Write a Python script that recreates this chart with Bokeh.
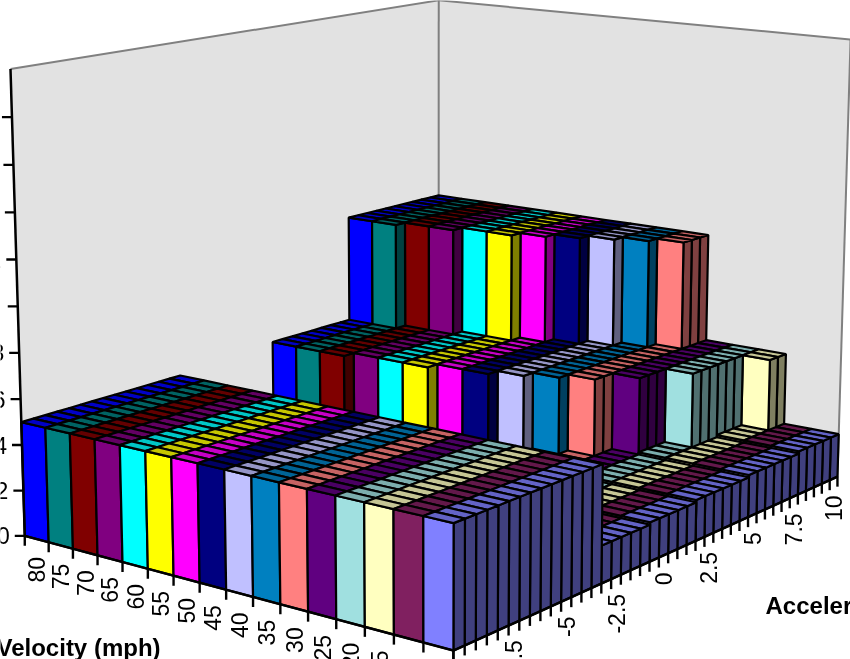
import numpy as np
from bokeh.plotting import figure
from bokeh.core.properties import value
from bokeh.embed import file_html
from bokeh.resources import INLINE

# ---- data -------------------------------------------------------------
velocity_labels = ["80","75","70","65","60","55","50","45","40","35","30","25","20","15","10","5"]
accel_labels = ["-10","-7.5","-5","-2.5","0","2.5","5","7.5","10"]
z_tick_values = [0,2,4,6,8,10,12,14,16,18]
z_label_values = [0,2,4,6,8,12]
series_colors = ["#0000FF","#008080","#800000","#800080","#00FFFF","#FFFF00","#FF00FF","#000080",
                 "#C0C0FF","#0080C0","#FF8080","#600080","#A0E0E0","#FFFFC0","#802060","#8080FF"]
n_accel = 41
front_block_end = [14]*16
front_block_height = 5.0
mid_block_start = [23,23,23,24,24,24,25,25,26,27,28,30,33,39]
mid_block_height = 5.3
top_block_start = [31,31,32,32,33,33,34,35,36,37,38]
top_block_height = 10.3
low_height = [1.6,1.6,1.6,1.6,1.6,1.7,1.7,1.7,1.7,1.7,1.8,1.8,1.8,1.8,1.8,1.8,1.9,1.9,1.9,1.9,1.9,1.9,2,2,2,2,2]

heights = []
for i in range(16):
    row = []
    for j in range(n_accel):
        if j < front_block_end[i]:
            h = front_block_height
        else:
            h = low_height[j-14]
            if i < 14 and j >= mid_block_start[i]:
                h = mid_block_height
            if i < 11 and j >= top_block_start[i]:
                h = top_block_height
        row.append(h)
    heights.append(row)

# ---- camera calibration: (velocity slot, accel slot, value) -> page pixel
anchors = [((0,0,0),(23,536)),((16,0,0),(453,650)),((16,41,0),(836,478)),
           ((0,0,20),(9,70)),((0,41,20),(439,0)),((16,41,20),(850,38)),
           ((16,0,5),(453,523)),((0,0,5),(21,420)),((0,14,5),(180,373)),
           ((16,14,5),(602,462)),((16,14,0),(602,582)),((8,0,0),(227,590)),
           ((16,20,0),(658,558)),((0,0,12),(16,260))]
A, b = [], []
for (X,Y,Z),(u,v) in anchors:
    A.append([X,Y,Z,1,0,0,0,0,-u*X,-u*Y,-u*Z]); b.append(u)
    A.append([0,0,0,0,X,Y,Z,1,-v*X,-v*Y,-v*Z]); b.append(v)
m = np.linalg.lstsq(np.array(A,float),np.array(b,float),rcond=None)[0]
P = np.append(m,1).reshape(3,4)
def proj(x,y,z):
    r = P @ np.array([x,y,z,1.0])
    return float(r[0]/r[2]), float(r[1]/r[2])
def face(pts):
    q = [proj(*pt) for pt in pts]
    return [a for a,_ in q],[c for _,c in q]
def shade(hexc,f):
    r,g,bl = int(hexc[1:3],16),int(hexc[3:5],16),int(hexc[5:7],16)
    return "#%02x%02x%02x"%(int(r*f),int(g*f),int(bl*f))

p = figure(width=850,height=659,x_range=(0,850),y_range=(659,0),output_backend="svg",
           toolbar_location=None,min_border=0,x_axis_type=None,y_axis_type=None,
           outline_line_color=None,background_fill_color="white",border_fill_color="white")
p.grid.visible=False
p.styles={"position":"fixed","left":"0px","top":"0px"}

# walls
wx,wy=[],[]
for pts in ([(0,0,0),(0,41,0),(0,41,20),(0,0,20)],[(0,41,0),(16,41,0),(16,41,20),(0,41,20)]):
    a,c=face(pts); wx.append(a); wy.append(c)
p.patches(wx,wy,fill_color="#E2E2E2",line_color=None)
for s,e in (((0,0,20),(0,41,20)),((0,41,20),(16,41,20)),((16,41,20),(16,41,0)),((0,41,20),(0,41,0))):
    a,c=face([s,e]); p.line(a,c,line_color="#808080",line_width=2)

# bars, painted from the back corner to the front one
xs,ys,cols=[],[],[]
def add(pts,col):
    a,c=face(pts); xs.append(a); ys.append(c); cols.append(col)
for j in range(n_accel-1,-1,-1):
    for i in range(16):
        h=heights[i][j]; c=series_colors[i]
        front_lower = j==0 or heights[i][j-1]<h
        side_lower = i==15 or heights[i+1][j]<h
        if side_lower:
            add([(i+1,j,0),(i+1,j+1,0),(i+1,j+1,h),(i+1,j,h)],shade(c,0.5))
        if front_lower:
            add([(i,j,0),(i+1,j,0),(i+1,j,h),(i,j,h)],c)
        add([(i,j,h),(i+1,j,h),(i+1,j+1,h),(i,j+1,h)],shade(c,0.78))
p.patches(xs,ys,fill_color=cols,line_color="black",line_width=2.2)

# axes
for s,e in (((0,0,0),(0,0,20)),((0,0,0),(16,0,0)),((16,0,0),(16,41,0))):
    a,c=face([s,e]); p.line(a,c,line_color="black",line_width=2.5)
tx,ty=[],[]
for i in range(17):
    a,c=proj(i,0,0); tx.append([a,a]); ty.append([c,c+10])
for j in range(42):
    a,c=proj(16,j,0); tx.append([a,a]); ty.append([c,c+10])
for z in z_tick_values:
    a,c=proj(0,0,z); tx.append([a-10,a]); ty.append([c,c])
p.multi_line(tx,ty,line_color="black",line_width=2.4)

font=value("Liberation Sans")
vx=[proj(i+.5,0,0)[0] for i in range(16)]
vy=[proj(i+.5,0,0)[1]+18+i*0.14 for i in range(16)]
p.text(vx,vy,text=velocity_labels,angle=np.pi/2,text_align="right",text_baseline="middle",
       text_font=font,text_font_size="23px",text_color="black")
ax=[proj(16,2*k*2.5+.5,0)[0] for k in range(9)]
ay=[proj(16,2*k*2.5+.5,0)[1]+17 for k in range(9)]
p.text(ax,ay,text=accel_labels,angle=np.pi/2,text_align="right",text_baseline="middle",
       text_font=font,text_font_size="23px",text_color="black")
zx=[proj(0,0,z)[0]-15 for z in z_label_values]
zy=[proj(0,0,z)[1] for z in z_label_values]
p.text(zx,zy,text=[str(z) for z in z_label_values],text_align="right",text_baseline="middle",
       text_font=font,text_font_size="23px",text_color="black")
p.text([-4],[647],text=["Velocity (mph)"],text_align="left",text_baseline="middle",
       text_font=font,text_font_style="bold",text_font_size="24px",text_color="black")
p.text([765],[605],text=["Acceleration (mph/s)"],text_align="left",text_baseline="middle",
       text_font=font,text_font_style="bold",text_font_size="24px",text_color="black")

open("out.html","w").write(file_html(p,INLINE))
